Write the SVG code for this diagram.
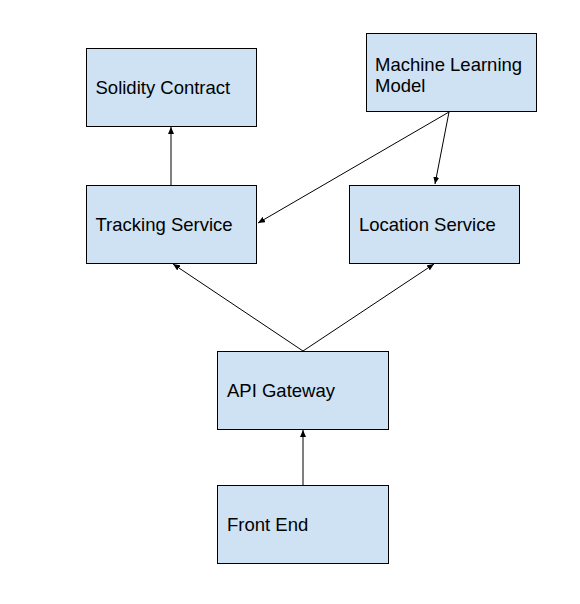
<svg xmlns="http://www.w3.org/2000/svg" width="580" height="604" viewBox="0 0 580 604">
<style>
.box{fill:#cfe2f3;stroke:#000;stroke-width:1}
.lbl{font-family:"Liberation Sans",Arial,sans-serif;font-size:18.5px;fill:#000}
.edge{stroke:#000;stroke-width:1;fill:none;marker-end:url(#ah)}
</style>
<defs>
<marker id="ah" markerWidth="8" markerHeight="6" refX="7" refY="3" orient="auto" markerUnits="userSpaceOnUse">
<path d="M0,0 L7,3 L0,6 z" fill="#000"/>
</marker>
</defs>
<rect width="580" height="604" fill="#fff"/>
<g id="connectors">
<line class="edge" x1="171" y1="185" x2="171" y2="127"/>
<line class="edge" x1="449" y1="112" x2="258" y2="223"/>
<line class="edge" x1="449" y1="112" x2="435" y2="184"/>
<line class="edge" x1="303" y1="351" x2="173" y2="264"/>
<line class="edge" x1="303" y1="351" x2="434" y2="264"/>
<line class="edge" x1="303" y1="485" x2="303" y2="430"/>
</g>
<g id="solidity">
<rect class="box" x="86.5" y="48.5" width="170" height="78"/>
<text class="lbl" x="95.5" y="94">Solidity Contract</text>
</g>
<g id="ml">
<rect class="box" x="366.5" y="33.5" width="170" height="78"/>
<text class="lbl" x="375" y="71">Machine Learning</text>
<text class="lbl" x="375" y="92">Model</text>
</g>
<g id="tracking">
<rect class="box" x="86.5" y="185.5" width="170" height="78"/>
<text class="lbl" x="95.5" y="231">Tracking Service</text>
</g>
<g id="location">
<rect class="box" x="349.5" y="185.5" width="170" height="78"/>
<text class="lbl" x="359" y="231">Location Service</text>
</g>
<g id="api">
<rect class="box" x="217.5" y="351.5" width="171" height="78"/>
<text class="lbl" x="227" y="397">API Gateway</text>
</g>
<g id="frontend">
<rect class="box" x="217.5" y="485.5" width="171" height="78"/>
<text class="lbl" x="227" y="531">Front End</text>
</g>
</svg>
